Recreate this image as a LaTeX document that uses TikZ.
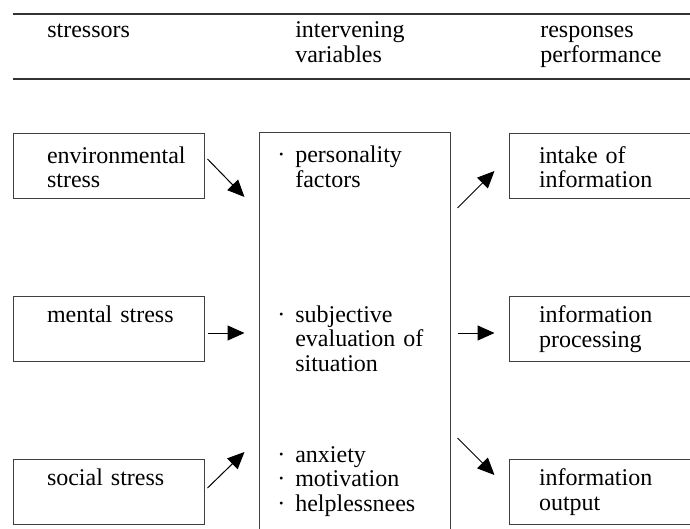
\documentclass[tikz,border=0pt]{standalone}
\usepackage{fontspec}
\setmainfont{Liberation Serif}
\usepackage{tikz}
\usetikzlibrary{arrows.meta}
\usetikzlibrary{calc}
\usetikzlibrary{positioning}

\newcommand{\midbullet}{\leavevmode\llap{·\hspace{10pt}}}

\begin{document}
\begin{tikzpicture}[x=1pt,y=1pt,-,auto,node distance=163pt,semithick,
    font=\fontsize{24pt}{24.5pt}\selectfont]
  \tikzstyle{box}=[draw=black!75, line width=1pt, rectangle, text width=191pt,
    inner xsep=0pt, inner ysep=0pt, text height=26pt, text depth=39pt, align=left]
  \tikzstyle{lbox}=[box, execute at begin node={\leftskip=34pt\relax}]
  \tikzstyle{rbox}=[box, execute at begin node={\leftskip=30pt\relax}]
  \tikzstyle{head}=[anchor=base west, text width=150pt, inner sep=0pt, align=left]
  \tikzstyle{arr}=[black, line width=1pt, -{Triangle[length=17pt,width=15pt]}]
  \clip (0,0) rectangle (690,-529);

  % header
  \foreach \y in {14,79}{
    \draw[black!80, line width=1.5pt] (13,-\y) -- (690,-\y);
  }
  \node[head] (hstress) at (47,-38) {stressors};
  \node[head] (hinter) at (295,-38) {intervening\\variables};
  \node[head] (hresp) at (540,-38) {responses\\performance};

  % stressors
  \node[lbox, text height=30pt, text depth=35pt] (env) at (108.5,-166) {environmental\\stress};
  \node[lbox] (mental) [below of=env] {mental stress};
  \node[lbox] (social) [below of=mental] {social stress};

  % intervening variables
  \node[draw=black!75, line width=1pt, minimum width=191pt, minimum height=420pt,
    inner sep=0pt] (mid) at (354.5,-343) {};
  \node[head] (pers) at (295,-163) {\midbullet personality\\factors};
  \node[head] (subj) at (295,-322) {\midbullet subjective\\evaluation of\\situation};
  \node[head] (anx) at (295,-462) {\midbullet anxiety\\\midbullet motivation\\\midbullet helplessnees};

  % responses
  \node[rbox, text height=30pt, text depth=35pt, node distance=496pt, right of=env] (intake) {intake of\\information};
  \node[rbox] (proc) [below of=intake] {information\\processing};
  \node[rbox] (output) [below of=proc] {information\\output};

  \draw[arr] ($(env.east)+(3,7)$) -- ($(env.east -| mid.west)+(-14,-31)$);
  \draw[arr] ($(mental.east)+(3,-4)$) -- ($(mental.east -| mid.west)+(-14,-4)$);
  \draw[arr] ($(social.east)+(3,4)$) -- ($(social.east -| mid.west)+(-14,40)$);
  \draw[arr] ($(intake.west -| mid.east)+(7,-42)$) -- ($(intake.west)+(-14,-5)$);
  \draw[arr] ($(proc.west -| mid.east)+(7,-4)$) -- ($(proc.west)+(-14,-4)$);
  \draw[arr] ($(output.west -| mid.east)+(7,54)$) -- ($(output.west)+(-14,17)$);
\end{tikzpicture}
\end{document}
